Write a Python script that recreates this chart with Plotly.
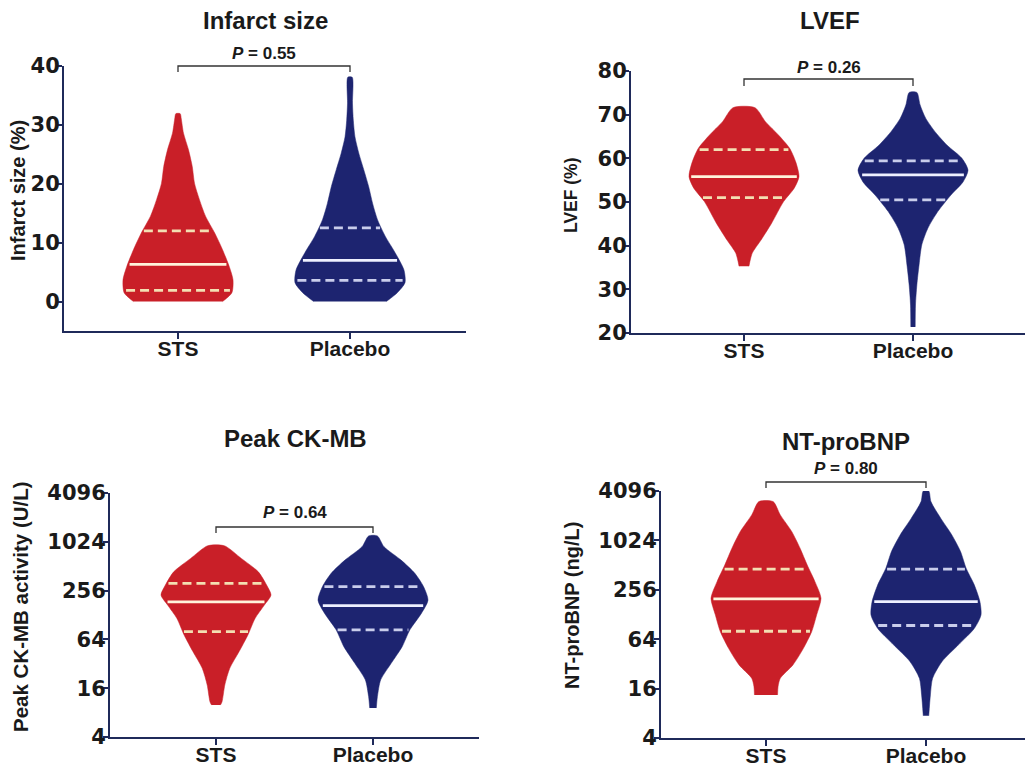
import numpy as np
import plotly.graph_objects as go

# page body keeps an 8px margin: build the figure so that the page matches 1033x767
PAGE_W, PAGE_H, BODY = 1033, 767, 8
W, H = PAGE_W - BODY, PAGE_H - BODY

CATEGORIES = ["STS", "Placebo"]

# ---------------- data ----------------
# Violin outlines: value levels and relative density (max = 1)
INF_STS_LEVELS = [0, 1.5, 3.7, 6.0, 8.8, 11.6, 14.5, 17.3, 20.1, 22.9, 25.8, 28.6, 31.0, 31.9]
INF_STS_DENS = [0.81, 0.98, 1.0, 0.93, 0.81, 0.67, 0.50, 0.39, 0.30, 0.26, 0.19, 0.10, 0.06, 0.04]
INF_PLA_LEVELS = [0, 1.5, 3.2, 5.4, 8.3, 11.1, 13.9, 16.7, 19.5, 22.4, 25.2, 28.0, 30.8, 33.7, 38.1]
INF_PLA_DENS = [0.66, 0.86, 1.0, 0.98, 0.82, 0.64, 0.50, 0.41, 0.34, 0.25, 0.16, 0.09, 0.06, 0.045, 0.04]
INF_MEDIAN = [6.3, 7.0]
INF_Q1 = [1.9, 3.6]
INF_Q3 = [12.0, 12.5]

LVEF_STS_LEVELS = [35.3, 38.3, 41.3, 45.1, 50.1, 53.1, 55.8, 59.2, 62.3, 65.3, 68.4, 71.6]
LVEF_STS_DENS = [0.09, 0.15, 0.31, 0.50, 0.72, 0.91, 1.0, 0.94, 0.83, 0.63, 0.39, 0.20]
LVEF_PLA_LEVELS = [21.4, 26.4, 31.0, 35.6, 40.2, 44.0, 47.8, 51.6, 54.6, 57.3, 60.0, 63.0, 66.1, 69.2, 72.2, 75.1]
LVEF_PLA_DENS = [0.04, 0.045, 0.07, 0.11, 0.16, 0.27, 0.45, 0.69, 0.91, 1.0, 0.89, 0.62, 0.40, 0.23, 0.13, 0.07]
LVEF_MEDIAN = [55.8, 56.2]
LVEF_Q1 = [51.0, 50.5]
LVEF_Q3 = [62.0, 59.4]

CK_STS_LEVELS = [9.9, 10.9, 17.5, 28.2, 45.3, 72.5, 116, 170, 226, 300, 436, 639, 917]
CK_STS_DENS = [0.08, 0.11, 0.16, 0.25, 0.42, 0.58, 0.71, 0.88, 1.0, 0.92, 0.77, 0.46, 0.15]
CK_PLA_LEVELS = [9.1, 12.6, 20.3, 32.4, 52.0, 83.9, 134, 195, 286, 419, 609, 891, 1209]
CK_PLA_DENS = [0.06, 0.08, 0.14, 0.33, 0.53, 0.67, 0.88, 1.0, 0.92, 0.76, 0.51, 0.20, 0.08]
CK_MEDIAN = [186, 167]
CK_Q1 = [80, 84]
CK_Q3 = [315, 286]

NT_STS_LEVELS = [13.4, 17.1, 21.4, 31.1, 49.5, 78.8, 126, 202, 322, 512, 820, 1305, 2091, 3040]
NT_STS_DENS = [0.21, 0.22, 0.26, 0.49, 0.68, 0.83, 0.92, 1.0, 0.89, 0.75, 0.62, 0.47, 0.26, 0.13]
NT_PLA_LEVELS = [7.46, 13.4, 21.4, 34.1, 54.6, 86.8, 126, 184, 292, 468, 744, 1193, 1897, 3040, 4096]
NT_PLA_DENS = [0.05, 0.08, 0.12, 0.29, 0.59, 0.88, 1.0, 0.98, 0.88, 0.73, 0.63, 0.47, 0.27, 0.09, 0.05]
NT_MEDIAN = [198, 184]
NT_Q1 = [80, 94]
NT_Q3 = [458, 458]

P_VALUES = ["0.55", "0.26", "0.64", "0.80"]
TITLES = ["Infarct size", "LVEF", "Peak CK-MB", "NT-proBNP"]
Y_TITLES = ["Infarct size (%)", "LVEF (%)", "Peak CK-MB activity (U/L)", "NT-proBNP (ng/L)"]
LIN_TICKS_INF = [0, 10, 20, 30, 40]
LIN_TICKS_LVEF = [20, 30, 40, 50, 60, 70, 80]
LOG_TICKS = [4, 16, 64, 256, 1024, 4096]

# ---------------- styling ----------------
RED = "#C91F28"
NAVY = "#1D2470"
AXIS = "#1F2A5A"
LINE_ON = {RED: ("#FFF4DC", "#F3DFB2"), NAVY: ("#EEF0FF", "#C9CDEB")}
VIOLIN_HALF_PX = 55


def fx(px):
    return (px - BODY) / W


def fy(py):
    return 1 - (py - BODY) / H


panels = [
    dict(px=(64, 466, 66, 331), cats_px=(178, 350), yrange=(-5, 40), log=False,
         ticks=LIN_TICKS_INF,
         shapes=[(INF_STS_LEVELS, INF_STS_DENS), (INF_PLA_LEVELS, INF_PLA_DENS)],
         med=INF_MEDIAN, q1=INF_Q1, q3=INF_Q3,
         title_xy=(265, 20), p_y=54, br=(66, 72), ytitle_xy=(18, 191), ytsize=20),
    dict(px=(631, 1026, 71, 333), cats_px=(744, 913), yrange=(20, 80), log=False,
         ticks=LIN_TICKS_LVEF,
         shapes=[(LVEF_STS_LEVELS, LVEF_STS_DENS), (LVEF_PLA_LEVELS, LVEF_PLA_DENS)],
         med=LVEF_MEDIAN, q1=LVEF_Q1, q3=LVEF_Q3,
         title_xy=(830, 20), p_y=67, br=(79, 86), ytitle_xy=(571, 195), ytsize=17.5),
    dict(px=(110, 479, 493, 737), cats_px=(216, 373), yrange=(4, 4096), log=True,
         ticks=LOG_TICKS,
         shapes=[(CK_STS_LEVELS, CK_STS_DENS), (CK_PLA_LEVELS, CK_PLA_DENS)],
         med=CK_MEDIAN, q1=CK_Q1, q3=CK_Q3,
         title_xy=(295, 438), p_y=512, br=(527, 533), ytitle_xy=(20, 607), ytsize=20.5),
    dict(px=(661, 1031, 491, 738), cats_px=(766, 926), yrange=(4, 4096), log=True,
         ticks=LOG_TICKS,
         shapes=[(NT_STS_LEVELS, NT_STS_DENS), (NT_PLA_LEVELS, NT_PLA_DENS)],
         med=NT_MEDIAN, q1=NT_Q1, q3=NT_Q3,
         title_xy=(846, 442), p_y=468, br=(482, 488), ytitle_xy=(572, 606), ytsize=20),
]

fig = go.Figure()
layout = dict(width=W, height=H, margin=dict(l=0, r=0, t=0, b=0, pad=0, autoexpand=False),
              paper_bgcolor="white", plot_bgcolor="white", showlegend=False)
annotations, shapes = [], []
COLORS = [RED, NAVY]

for i, p in enumerate(panels):
    k = "" if i == 0 else str(i + 1)
    xa, ya = "x" + k, "y" + k
    x0, x1, y0, y1 = p["px"]
    c0, c1 = p["cats_px"]
    unit = c1 - c0
    xr = [(x0 - c0) / unit, (x1 - c0) / unit]
    half = VIOLIN_HALF_PX / unit
    log = p["log"]

    for j, (lev, dens) in enumerate(p["shapes"]):
        col = COLORS[j]
        lev = np.asarray(lev, float)
        dens = np.asarray(dens, float)
        xs = np.concatenate([j + dens * half, (j - dens * half)[::-1]])
        ys = np.concatenate([lev, lev[::-1]])
        fig.add_trace(go.Scatter(x=xs, y=ys, xaxis=xa, yaxis=ya, mode="lines",
                                 fill="toself", fillcolor=col,
                                 line=dict(color=col, width=0.5, shape="spline", smoothing=0.7),
                                 hoverinfo="skip"))
        tr = np.log(lev) if log else lev

        def width_at(v):
            vv = np.log(v) if log else v
            return float(np.interp(vv, tr, dens)) * half * 0.96

        solid_c, dash_c = LINE_ON[col]
        for val, dash, colr in [(p["med"][j], "solid", solid_c),
                                (p["q1"][j], "9px,5px", dash_c),
                                (p["q3"][j], "9px,5px", dash_c)]:
            w = width_at(val)
            fig.add_trace(go.Scatter(x=[j - w, j + w], y=[val, val], xaxis=xa, yaxis=ya,
                                     mode="lines", line=dict(color=colr, width=2.8, dash=dash),
                                     hoverinfo="skip"))

    xdom = [fx(x0), fx(x1)]
    ydom = [fy(y1), fy(y0)]
    tickfont = dict(family="DejaVu Sans", size=21, color="#1a1a1a", weight="bold")
    layout["xaxis" + k] = dict(domain=xdom, range=xr, anchor=ya, tickvals=[0, 1],
                               ticktext=CATEGORIES, showline=True, linecolor=AXIS, linewidth=2,
                               ticks="outside", ticklen=6, tickwidth=2, tickcolor=AXIS,
                               showgrid=False, zeroline=False, automargin=False,
                               ticklabelstandoff=-8,
                               tickfont=dict(family="Liberation Sans", size=21, color="#1a1a1a",
                                             weight="bold"))
    if log:
        yr = [np.log10(p["yrange"][0]), np.log10(p["yrange"][1])]
        layout["yaxis" + k] = dict(domain=ydom, range=yr, type="log", anchor=xa,
                                   tickvals=p["ticks"], ticktext=[str(t) for t in p["ticks"]])
    else:
        layout["yaxis" + k] = dict(domain=ydom, range=list(p["yrange"]), anchor=xa,
                                   tickvals=p["ticks"])
    layout["yaxis" + k].update(showline=True, linecolor=AXIS, linewidth=2, ticks="outside",
                               ticklen=5, tickwidth=2, tickcolor=AXIS, showgrid=False,
                               zeroline=False, tickfont=tickfont, automargin=False,
                               ticklabelstandoff=-7)

    tx, ty = p["title_xy"]
    annotations.append(dict(text="<b>%s</b>" % TITLES[i], xref="paper", yref="paper",
                            x=fx(tx), y=fy(ty), showarrow=False, xanchor="center",
                            yanchor="middle",
                            font=dict(family="Liberation Sans", size=24, color="#1a1a1a")))
    annotations.append(dict(text="<b><i>P</i> = %s</b>" % P_VALUES[i], xref=xa, yref="paper",
                            x=0.5, y=fy(p["p_y"]), showarrow=False, xanchor="center",
                            yanchor="middle",
                            font=dict(family="Liberation Sans", size=17, color="#1a1a1a")))
    ytx, yty = p["ytitle_xy"]
    annotations.append(dict(text="<b>%s</b>" % Y_TITLES[i], xref="paper", yref="paper",
                            x=fx(ytx), y=fy(yty), showarrow=False, textangle=-90,
                            xanchor="center", yanchor="middle",
                            font=dict(family="Liberation Sans", size=p["ytsize"], color="#1a1a1a")))
    bt, bb = p["br"]
    shapes.append(dict(type="path", xref=xa, yref="paper",
                       path="M 0,%f L 0,%f L 1,%f L 1,%f" % (fy(bb), fy(bt), fy(bt), fy(bb)),
                       line=dict(color="#333333", width=1.3)))

layout["annotations"] = annotations
layout["shapes"] = shapes
fig.update_layout(**layout)
fig.write_html("out.html")
